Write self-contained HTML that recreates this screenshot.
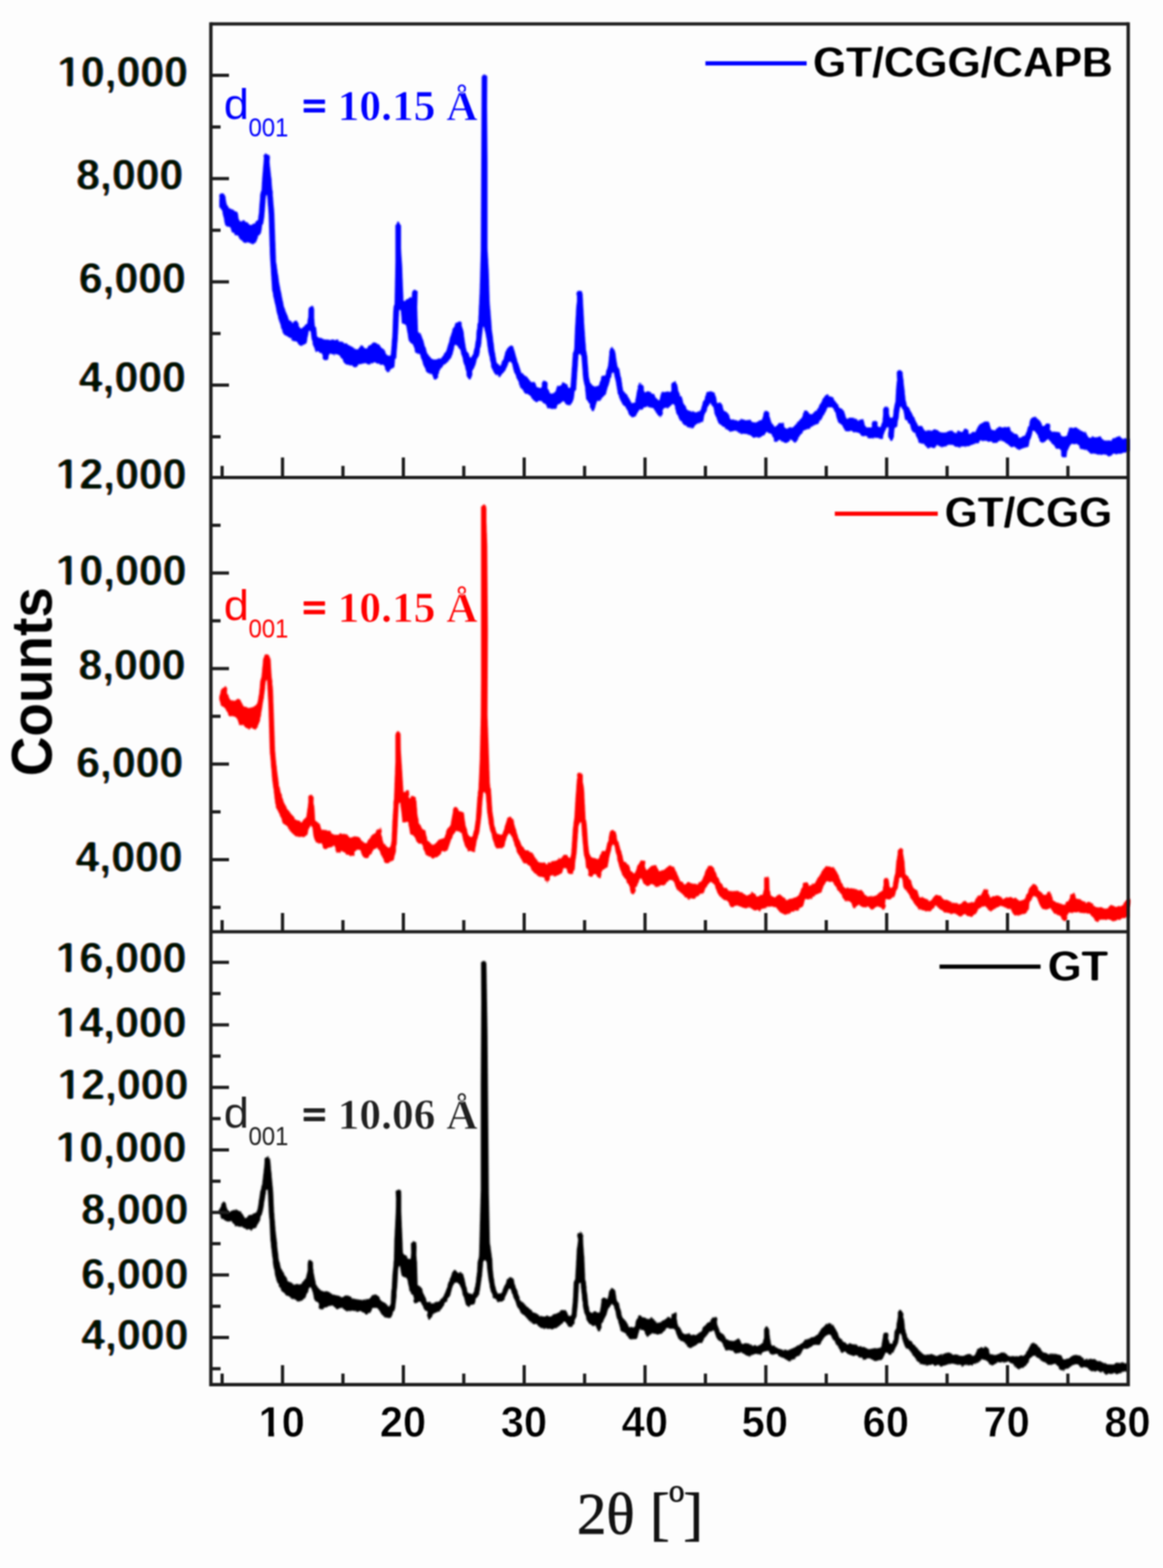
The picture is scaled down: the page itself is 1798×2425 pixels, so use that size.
<!DOCTYPE html>
<html lang="en"><head><meta charset="utf-8"><title>XRD patterns of GT, GT/CGG and GT/CGG/CAPB</title>
<style>
html,body{margin:0;padding:0;background:#fff;}
body{width:1798px;height:2425px;overflow:hidden;}
svg{display:block;}
text{white-space:pre;}
.ab{font-family:"Liberation Sans",Arial,Helvetica,sans-serif;font-weight:bold;}
.ar{font-family:"Liberation Sans",Arial,Helvetica,sans-serif;font-weight:normal;}
.tb{font-family:"Liberation Serif","Times New Roman",Times,serif;font-weight:bold;}
.tr{font-family:"Liberation Serif","Times New Roman",Times,serif;font-weight:normal;}
.fr{stroke:#1c1c1c;fill:none;stroke-linecap:butt;}
</style></head><body>
<svg width="1798" height="2425" viewBox="0 0 1798 2425" role="img" aria-label="XRD patterns">
<rect x="0" y="0" width="1798" height="2425" fill="#fdfdfd"/>
<defs>
<filter id="fc" x="0" y="0" width="1798" height="2425" filterUnits="userSpaceOnUse" color-interpolation-filters="sRGB"><feTurbulence type="fractalNoise" baseFrequency="0.16" numOctaves="2" seed="7" result="n0"/><feColorMatrix in="n0" type="matrix" values="0 0 0 0 0.5  0 1 0 0 0  0 0 1 0 0  0 0 0 0 1" result="n"/><feDisplacementMap in="SourceGraphic" in2="n" scale="6" xChannelSelector="R" yChannelSelector="G" result="d"/><feGaussianBlur in="d" stdDeviation="1.8"/></filter>
<filter id="fy" x="0" y="0" width="1798" height="2425" filterUnits="userSpaceOnUse" color-interpolation-filters="sRGB"><feGaussianBlur in="SourceAlpha" stdDeviation="1.5" result="b0"/><feComponentTransfer in="b0" result="er"><feFuncA type="linear" slope="3" intercept="-1.46"/></feComponentTransfer><feOffset in="er" dx="-1.2" dy="0" result="oa"/><feColorMatrix in="oa" type="matrix" values="0 0 0 0 0.62  0 0 0 0 0.25  0 0 0 0 0  0 0 0 1 0" result="ca"/><feOffset in="er" dx="1.2" dy="0" result="ob"/><feColorMatrix in="ob" type="matrix" values="0 0 0 0 0  0 0 0 0 0.28  0 0 0 0 0.62  0 0 0 1 0" result="cb"/><feBlend in="ca" in2="cb" mode="multiply" result="m"/><feGaussianBlur in="m" stdDeviation="0.8"/></filter>
<filter id="fl" x="0" y="0" width="1798" height="2425" filterUnits="userSpaceOnUse" color-interpolation-filters="sRGB"><feGaussianBlur in="SourceAlpha" stdDeviation="1.2" result="b0"/><feComponentTransfer in="b0" result="er"><feFuncA type="linear" slope="3" intercept="-1.81"/></feComponentTransfer><feOffset in="er" dx="-0.9" dy="0" result="oa"/><feOffset in="er" dx="0.9" dy="0" result="ob"/><feMerge result="m"><feMergeNode in="oa"/><feMergeNode in="ob"/></feMerge><feGaussianBlur in="m" stdDeviation="0.9"/></filter>
<filter id="fs" x="0" y="0" width="1798" height="2425" filterUnits="userSpaceOnUse" color-interpolation-filters="sRGB"><feGaussianBlur stdDeviation="1.15"/></filter>
<filter id="ft" x="0" y="0" width="1798" height="2425" filterUnits="userSpaceOnUse" color-interpolation-filters="sRGB"><feGaussianBlur stdDeviation="0.9"/></filter>
</defs>
<g id="curves" filter="url(#fc)">
<path d="M339.0,302.0 339.0,305.0 339.7,306.0 339.0,309.7 339.0,321.3 343.0,325.0 343.7,326.3 348.0,348.3 354.7,351.7 356.3,353.3 359.0,359.0 361.0,360.7 367.7,364.3 372.0,370.3 377.0,375.3 378.7,375.7 386.3,374.7 391.0,378.0 392.0,378.0 395.7,374.3 398.3,367.0 403.0,361.0 404.0,358.7 405.3,348.3 407.3,342.7 408.7,335.0 411.0,303.7 412.3,301.3 413.0,302.0 415.3,331.0 417.3,394.3 420.7,448.7 427.7,482.3 431.3,496.3 438.3,517.3 439.7,519.0 448.3,522.7 464.7,535.0 466.3,535.0 473.7,531.0 477.0,514.3 478.3,512.3 479.7,512.0 480.3,512.7 481.7,524.0 483.0,526.3 483.3,530.0 487.3,542.7 488.7,544.0 495.3,545.0 497.3,546.3 499.3,550.7 498.7,553.7 500.0,556.3 501.3,557.3 506.3,556.7 507.7,554.7 508.0,551.3 509.7,548.3 511.0,547.3 524.3,549.7 525.7,550.3 534.0,563.0 536.0,564.0 543.7,564.7 549.7,567.7 551.0,567.7 558.3,561.7 571.0,563.7 577.3,560.3 579.0,560.3 586.7,563.7 592.7,565.3 595.0,568.0 595.7,569.3 595.0,571.3 598.0,575.3 600.0,575.7 603.0,574.3 604.0,573.3 604.3,572.0 610.0,565.7 610.7,555.7 612.7,552.3 615.3,518.3 617.0,479.3 618.0,478.3 619.7,480.7 621.3,500.0 626.7,502.0 628.0,503.7 632.0,527.0 638.7,533.3 642.0,545.0 642.7,545.7 647.7,547.0 649.3,548.3 655.0,564.7 659.7,575.7 660.7,576.7 667.3,578.3 668.7,580.0 669.0,583.3 672.3,587.0 674.3,587.0 677.3,582.7 677.3,578.3 682.3,568.3 697.3,555.3 701.7,538.7 703.3,534.3 704.7,534.3 710.7,538.7 711.7,540.0 713.0,547.3 714.7,551.7 717.0,562.0 721.0,573.7 721.3,580.3 725.3,586.3 726.7,586.7 727.7,586.0 730.3,579.3 730.0,574.3 735.7,562.0 737.0,556.3 740.3,550.0 744.3,530.3 744.3,526.3 746.7,506.7 747.7,506.0 748.7,507.7 752.3,524.7 755.0,544.0 760.3,569.7 765.3,578.7 772.0,582.3 773.0,582.3 777.7,577.7 783.7,567.7 786.3,560.3 787.0,559.7 788.7,559.7 790.3,560.7 791.7,562.3 795.0,576.3 799.7,586.3 805.0,599.7 809.7,606.7 812.0,608.7 820.0,611.7 826.0,621.0 835.0,621.0 840.7,622.3 842.7,623.7 847.3,631.7 854.0,633.7 859.7,632.0 860.7,631.0 862.3,626.0 864.0,624.3 870.0,621.3 871.0,621.3 876.3,626.3 881.0,626.7 882.7,626.3 883.7,625.0 887.3,616.3 888.0,607.7 890.7,602.0 894.3,549.3 896.0,547.0 897.3,548.0 899.0,551.7 901.3,582.3 902.7,591.3 904.3,598.0 906.0,616.0 912.0,624.7 912.0,629.7 914.7,635.0 915.7,635.7 917.7,634.7 920.7,629.7 920.7,626.0 924.3,620.0 925.7,618.7 931.3,616.0 932.7,614.7 937.0,607.7 943.7,585.0 944.7,583.3 946.0,576.7 947.0,575.3 948.3,575.0 949.0,576.0 950.0,581.7 951.0,584.3 955.0,608.3 956.7,611.3 956.7,612.7 962.3,625.3 967.7,630.7 973.0,641.7 977.7,646.0 979.3,646.0 982.0,645.0 983.3,643.7 987.7,634.7 988.7,633.7 994.7,631.7 999.7,629.0 1009.3,631.3 1014.7,637.7 1016.3,641.7 1017.3,642.7 1022.0,643.7 1023.3,642.7 1025.0,639.3 1024.3,636.0 1027.0,631.3 1036.3,629.0 1040.0,626.3 1042.0,626.0 1043.3,629.0 1045.7,638.3 1051.3,649.3 1055.7,655.3 1057.7,657.3 1063.7,661.0 1070.7,661.7 1078.0,656.3 1086.0,653.3 1087.0,652.3 1089.3,641.3 1091.7,637.3 1094.3,627.7 1098.0,624.0 1099.0,624.7 1102.7,630.3 1106.0,642.7 1111.0,654.7 1120.3,662.0 1128.3,667.0 1140.3,667.3 1148.7,671.7 1159.3,672.7 1165.7,677.3 1174.3,677.3 1186.3,669.3 1187.7,669.3 1192.3,672.3 1194.0,674.0 1196.3,677.3 1196.7,681.0 1199.3,683.3 1202.0,683.3 1205.7,680.3 1211.3,684.0 1214.7,685.0 1216.7,685.0 1223.7,680.0 1226.7,683.0 1229.3,683.7 1231.7,683.3 1234.3,679.7 1234.0,677.0 1241.7,667.3 1250.7,663.7 1257.0,658.7 1264.3,655.0 1270.3,647.7 1280.3,630.0 1281.7,629.0 1285.3,629.0 1287.0,630.3 1291.7,639.7 1295.7,651.7 1301.0,657.3 1307.3,667.0 1317.0,667.3 1324.3,668.7 1331.7,673.0 1337.3,674.3 1343.7,678.0 1352.0,677.3 1364.3,678.0 1365.0,677.7 1368.0,666.7 1369.3,665.0 1370.3,662.0 1371.7,660.7 1372.7,660.7 1373.7,662.3 1373.7,667.0 1373.0,670.3 1373.3,676.0 1377.0,680.7 1378.3,681.0 1379.7,680.0 1382.0,675.7 1382.7,663.3 1383.3,662.0 1387.3,658.3 1388.0,651.0 1389.3,647.7 1390.0,638.0 1391.7,629.3 1393.0,628.7 1397.0,636.7 1399.3,648.7 1400.0,650.0 1406.0,655.3 1409.7,666.0 1415.0,671.7 1420.0,683.0 1421.0,684.0 1427.3,685.7 1434.7,692.7 1444.7,692.7 1449.0,687.7 1454.7,692.7 1462.3,691.3 1467.7,687.7 1469.3,687.7 1477.7,691.0 1490.7,691.7 1496.3,691.0 1503.3,687.3 1510.3,686.3 1516.3,681.7 1525.3,681.7 1528.7,683.7 1540.0,684.3 1545.0,681.7 1552.0,681.7 1562.3,691.0 1563.7,691.7 1570.3,691.0 1575.0,694.7 1577.3,695.0 1583.0,692.7 1590.0,691.0 1592.3,679.3 1595.0,674.0 1596.3,668.0 1597.7,666.3 1600.0,666.0 1604.7,675.0 1607.0,678.0 1607.0,681.7 1609.7,685.3 1611.7,685.7 1615.0,684.0 1615.7,682.0 1617.3,680.3 1618.7,680.3 1624.7,683.3 1633.0,693.0 1639.3,696.0 1640.3,697.0 1640.7,703.7 1642.0,706.7 1643.0,707.3 1647.3,707.3 1648.3,706.7 1649.3,704.7 1649.7,698.0 1652.0,692.7 1657.3,685.7 1659.3,685.7 1665.0,687.3 1671.0,694.3 1680.0,696.7 1684.7,701.3 1691.0,700.3 1695.7,705.0 1698.0,704.7 1705.0,701.7 1711.7,705.0 1714.0,705.0 1724.7,701.7 1734.3,701.7 1745.7,698.3 1746.0,697.7 1746.0,678.3 1745.3,677.7 1736.0,677.7 1731.0,674.3 1730.0,674.3 1726.3,677.0 1717.7,681.3 1707.3,681.3 1699.3,675.0 1683.7,676.0 1682.3,675.0 1679.0,668.7 1670.7,667.0 1669.3,666.3 1664.7,661.3 1657.7,660.3 1652.7,663.3 1650.0,671.7 1648.0,674.3 1644.7,675.7 1643.0,675.7 1638.0,669.0 1636.7,668.3 1626.3,667.0 1625.0,666.3 1623.0,662.7 1624.0,658.7 1622.3,655.0 1616.7,655.0 1614.7,657.0 1612.0,657.7 1610.7,656.7 1606.7,650.0 1601.3,645.0 1597.3,645.0 1593.0,648.3 1591.0,658.7 1588.0,664.0 1586.0,671.3 1583.3,674.0 1577.7,675.7 1575.7,675.7 1571.7,672.0 1565.3,670.3 1563.3,667.3 1561.3,661.7 1559.7,661.0 1552.3,660.3 1543.3,661.0 1541.3,661.7 1537.7,665.0 1534.0,665.0 1532.7,664.0 1529.3,654.3 1528.3,653.3 1524.3,651.7 1522.7,651.7 1513.7,656.7 1512.3,658.0 1508.0,666.7 1507.0,667.7 1499.7,670.0 1498.0,670.0 1497.3,669.3 1497.3,666.7 1493.7,663.0 1492.3,663.3 1489.3,665.7 1487.7,668.3 1482.0,666.7 1476.0,668.3 1473.7,668.3 1468.7,665.3 1467.0,665.7 1463.0,668.7 1454.7,668.7 1450.3,665.0 1440.7,665.0 1431.0,666.7 1429.7,665.7 1424.7,659.0 1418.7,656.3 1417.0,654.7 1406.3,631.7 1402.0,626.7 1401.7,624.3 1400.3,621.3 1397.0,590.3 1395.3,578.7 1396.0,577.3 1394.3,574.0 1393.0,573.0 1388.7,573.7 1387.0,575.0 1386.3,576.3 1387.0,587.7 1385.7,596.3 1384.3,621.7 1381.7,633.0 1380.7,644.0 1379.7,645.0 1377.0,645.0 1375.7,644.0 1374.3,640.0 1374.3,632.0 1373.0,630.0 1369.7,628.3 1368.0,628.7 1365.3,632.7 1365.3,642.3 1364.0,654.0 1362.0,657.3 1361.7,659.3 1359.0,661.0 1358.0,661.0 1356.7,659.3 1356.7,653.3 1355.7,651.0 1354.7,650.3 1349.7,650.3 1348.7,651.0 1347.7,654.0 1348.0,660.0 1347.3,661.0 1345.3,661.0 1339.0,659.7 1337.3,658.3 1334.7,649.7 1333.7,648.7 1325.3,648.7 1318.0,645.0 1311.7,646.3 1309.0,646.3 1307.7,644.3 1304.7,635.7 1299.0,631.3 1295.0,625.7 1290.7,618.0 1284.0,612.7 1279.3,610.7 1277.3,610.7 1272.7,614.0 1266.7,628.0 1262.7,635.0 1261.3,636.3 1254.7,639.7 1251.0,639.0 1248.7,636.3 1245.7,635.7 1243.3,636.0 1241.0,639.7 1241.7,642.3 1233.7,652.7 1225.7,661.0 1215.3,663.0 1214.0,662.7 1212.3,660.0 1212.3,656.7 1211.7,655.0 1210.3,653.7 1205.7,653.0 1203.3,655.3 1202.3,658.7 1199.3,659.3 1197.7,659.0 1192.3,653.7 1189.3,642.7 1189.3,639.3 1188.3,637.3 1185.7,635.3 1183.3,635.7 1181.0,637.3 1180.3,638.7 1180.0,643.3 1178.0,648.3 1176.3,650.0 1171.0,652.3 1163.7,654.0 1159.0,650.3 1154.3,649.0 1150.0,648.7 1140.7,650.3 1131.0,648.7 1129.7,647.7 1125.3,640.0 1119.3,635.3 1115.7,624.7 1109.7,621.7 1108.3,620.3 1105.0,608.0 1104.0,607.0 1099.0,605.0 1093.7,606.3 1092.7,607.3 1089.7,615.0 1088.7,619.0 1086.3,623.0 1083.3,633.3 1082.0,635.0 1076.7,637.7 1065.7,636.0 1064.0,634.7 1057.0,625.3 1054.0,612.7 1053.3,611.7 1051.3,610.7 1050.0,608.7 1047.0,596.7 1047.3,594.0 1044.0,590.3 1040.0,591.3 1038.3,593.3 1037.7,595.3 1038.0,602.0 1037.0,605.7 1036.3,606.3 1034.3,606.3 1028.7,605.0 1023.7,606.3 1022.7,607.7 1019.7,617.3 1018.7,619.0 1017.7,619.0 1011.0,610.3 1006.3,606.7 1004.3,605.7 1000.7,605.0 997.3,607.0 996.7,606.7 995.3,603.3 995.3,597.7 994.3,595.3 993.0,594.0 988.3,593.0 987.3,593.7 985.7,597.0 986.3,600.7 985.0,603.0 982.3,620.3 980.7,622.7 976.7,623.7 972.0,614.7 963.3,603.7 960.7,586.7 957.3,571.3 956.3,569.0 954.7,567.0 950.3,540.7 949.0,539.0 946.3,537.3 945.7,537.3 943.3,539.3 942.0,542.7 942.0,549.0 940.3,562.3 938.7,570.0 937.3,573.3 936.7,578.0 935.3,580.0 931.7,581.3 930.0,582.7 926.0,595.7 924.0,597.0 918.3,597.7 912.3,591.7 910.3,582.7 907.7,549.0 906.0,541.0 903.3,503.7 900.7,454.3 899.3,451.3 897.0,449.7 894.3,449.7 893.0,450.3 891.3,452.7 891.3,456.0 892.0,457.0 892.0,465.7 891.0,473.7 888.7,513.7 887.7,540.7 885.7,546.7 882.0,598.7 880.7,600.0 879.3,600.0 878.7,599.3 876.7,595.0 872.3,591.7 871.3,591.7 867.0,595.0 861.3,596.7 859.0,606.0 858.0,607.3 851.0,607.7 849.7,606.7 846.3,600.0 846.7,593.0 845.7,590.0 844.7,589.3 839.7,589.3 838.7,590.0 837.7,592.3 837.7,597.7 836.3,600.0 834.7,600.0 831.0,598.7 829.7,597.3 826.3,589.7 819.7,589.3 814.3,582.3 807.7,579.0 806.3,577.7 798.0,552.0 794.0,537.3 793.0,536.3 790.3,535.3 788.3,535.3 783.3,538.3 778.3,555.3 773.7,564.7 773.0,565.3 772.0,565.3 768.7,562.0 768.0,560.7 764.7,544.0 760.3,508.3 757.0,466.0 755.7,421.7 753.7,383.7 753.7,250.3 753.0,164.0 753.3,118.7 752.7,117.3 750.3,115.7 747.7,115.7 746.3,116.3 744.7,118.7 743.3,386.3 741.7,447.3 739.3,499.3 738.3,501.0 737.7,507.7 737.0,509.7 736.0,525.3 734.7,531.0 734.0,537.3 731.7,547.3 731.0,548.7 728.0,551.0 727.0,551.0 721.7,544.0 719.3,533.0 716.7,514.0 713.7,504.3 713.7,500.0 713.0,498.7 710.7,497.0 708.0,497.0 705.3,499.0 700.0,508.7 689.7,543.7 683.0,552.7 681.0,554.3 674.0,556.0 667.0,554.0 661.0,548.0 652.0,519.7 646.3,511.7 645.0,476.3 645.7,451.3 642.7,448.0 640.3,448.0 637.0,451.0 636.7,460.0 635.7,461.3 630.3,462.3 625.3,464.7 623.7,463.7 621.7,412.3 620.0,384.0 620.0,347.7 616.3,343.7 614.3,343.7 611.3,347.7 611.3,404.0 610.0,470.7 608.7,473.0 608.0,480.3 606.7,515.7 604.3,547.7 602.3,549.7 599.3,550.0 592.3,539.3 585.3,532.3 580.7,530.0 579.0,530.0 574.3,532.3 565.7,539.3 563.7,538.3 560.3,535.3 559.3,535.3 551.7,539.3 550.0,539.3 534.3,531.3 522.0,526.0 501.3,525.0 491.3,520.3 490.0,518.7 488.7,507.3 486.7,503.7 485.7,491.0 485.7,478.0 484.7,475.7 481.0,472.7 478.3,475.0 477.0,478.0 476.7,487.7 475.0,500.3 473.7,502.0 466.3,508.0 464.7,508.0 461.7,504.0 461.7,500.3 459.0,497.0 457.3,496.7 454.0,498.3 452.0,500.3 447.0,494.0 439.0,474.3 432.0,439.7 426.7,403.7 424.0,328.0 421.7,302.0 421.7,297.0 421.0,294.7 419.7,277.3 416.7,251.0 417.3,241.7 415.7,238.7 410.3,237.7 409.0,238.7 407.3,241.3 408.0,243.3 405.3,277.0 404.3,294.7 403.3,296.3 403.0,299.7 402.3,301.0 400.0,332.3 399.0,338.7 393.7,346.0 389.7,347.3 387.3,347.3 382.0,343.7 370.3,340.7 369.0,338.7 367.3,327.7 357.3,324.3 350.7,316.7 350.0,315.0 348.3,302.0 345.0,299.0 342.0,299.0 340.7,299.7Z" fill="#0000ff" fill-rule="evenodd"/>
<path d="M339.0,1077.7 339.0,1081.7 341.7,1090.3 349.3,1098.0 353.0,1104.7 354.7,1106.7 360.7,1108.0 366.3,1111.7 367.3,1113.0 369.7,1119.3 377.7,1122.7 382.3,1127.7 384.0,1127.7 389.7,1125.0 391.0,1127.0 394.3,1128.3 395.7,1128.3 398.7,1125.3 398.3,1122.3 399.7,1120.7 401.0,1117.3 403.7,1105.7 406.7,1084.7 408.3,1076.7 410.7,1054.7 412.0,1053.0 413.0,1054.0 415.0,1090.0 417.0,1160.0 421.0,1206.7 426.0,1245.3 437.0,1272.3 445.0,1280.0 451.0,1288.0 458.7,1294.7 468.3,1294.0 471.0,1293.3 475.7,1288.7 479.0,1278.3 480.7,1276.0 481.7,1276.0 482.7,1277.3 484.7,1292.0 487.7,1302.0 488.7,1303.0 494.3,1304.0 497.0,1305.0 499.0,1307.7 499.0,1310.3 499.7,1311.7 502.0,1313.3 504.0,1313.3 505.3,1312.7 508.3,1310.0 516.3,1308.3 519.0,1312.0 518.3,1315.0 520.7,1319.0 522.7,1319.3 525.0,1318.7 527.7,1315.7 529.0,1315.3 535.3,1320.7 537.0,1321.7 539.0,1322.0 541.7,1324.3 546.3,1324.3 548.3,1321.7 548.0,1318.3 550.7,1315.3 556.0,1315.3 557.3,1316.3 561.7,1325.3 562.7,1326.3 565.3,1327.3 569.0,1327.0 578.7,1314.3 582.3,1311.3 583.7,1311.3 586.7,1315.7 593.7,1331.3 595.3,1333.7 602.0,1334.3 608.7,1329.7 612.0,1318.0 612.3,1309.3 613.3,1305.3 616.3,1244.7 616.7,1243.3 617.7,1242.3 619.0,1243.0 622.3,1271.7 630.3,1272.0 631.3,1273.0 634.0,1289.7 635.3,1290.7 639.7,1292.0 641.0,1293.7 643.7,1300.7 650.0,1304.0 651.7,1305.7 656.7,1317.7 664.0,1326.3 669.0,1327.7 671.3,1327.7 677.0,1325.0 683.3,1317.3 691.0,1315.7 692.0,1314.7 697.3,1299.0 702.3,1288.0 705.3,1284.7 712.0,1287.7 713.7,1289.3 718.7,1308.0 723.3,1315.3 724.3,1316.3 733.7,1316.3 734.7,1314.0 737.3,1298.7 741.3,1286.0 744.7,1258.3 745.0,1248.3 747.0,1226.3 748.3,1225.0 749.0,1225.0 751.0,1226.7 753.3,1257.7 755.3,1269.7 755.7,1275.0 764.7,1309.0 769.3,1313.3 778.7,1310.3 779.7,1309.3 782.7,1296.3 786.0,1289.7 787.7,1288.7 791.7,1294.7 800.3,1320.7 809.3,1333.7 818.0,1338.7 825.7,1350.0 835.3,1355.7 841.0,1357.0 841.7,1357.7 842.3,1361.0 846.0,1364.7 847.3,1364.3 850.0,1360.0 850.0,1356.0 850.7,1355.3 863.3,1353.7 868.3,1351.7 870.7,1344.0 872.0,1342.7 875.0,1342.7 876.0,1343.3 877.3,1347.0 877.3,1349.7 879.0,1352.0 880.3,1352.7 882.3,1352.7 885.3,1351.0 888.3,1345.0 889.7,1330.0 891.3,1320.7 894.3,1278.0 896.0,1271.7 897.3,1271.0 898.7,1272.7 900.0,1293.0 902.7,1320.7 904.7,1328.0 906.0,1341.3 910.0,1348.7 909.0,1351.3 910.7,1354.7 912.0,1355.7 913.3,1355.7 916.0,1354.7 918.0,1352.0 919.3,1352.0 921.7,1353.7 922.0,1355.0 923.0,1356.0 926.0,1357.3 927.3,1357.3 928.3,1356.7 930.0,1353.3 929.3,1349.3 931.0,1346.0 932.7,1344.3 938.3,1341.7 939.3,1340.3 942.7,1322.3 946.3,1308.0 947.7,1306.7 949.7,1308.3 953.3,1322.0 955.0,1332.3 962.0,1353.3 970.0,1364.3 973.7,1374.0 975.0,1380.0 979.0,1382.7 981.0,1382.0 983.0,1377.3 982.3,1376.0 982.3,1374.0 989.3,1360.3 990.3,1359.3 992.0,1360.3 996.7,1368.3 999.3,1370.3 1001.3,1370.3 1007.0,1367.3 1008.0,1367.3 1015.0,1371.0 1023.0,1370.3 1025.3,1369.7 1031.0,1363.3 1036.3,1360.0 1042.0,1363.7 1045.7,1374.3 1052.7,1379.7 1059.0,1387.7 1065.0,1390.7 1071.0,1390.3 1073.0,1389.7 1079.0,1385.7 1086.0,1382.3 1087.3,1381.0 1091.3,1374.3 1095.3,1366.0 1099.0,1363.7 1104.3,1367.7 1109.3,1381.3 1113.7,1387.7 1115.3,1389.3 1124.0,1393.0 1127.3,1398.3 1127.3,1400.0 1128.0,1401.3 1130.3,1403.0 1132.3,1403.0 1135.3,1401.0 1140.7,1400.7 1149.0,1403.7 1159.7,1403.7 1166.0,1408.0 1174.3,1408.0 1182.7,1403.7 1193.3,1401.7 1200.0,1403.7 1206.0,1411.0 1212.0,1414.0 1213.7,1414.0 1226.3,1410.3 1235.0,1406.7 1241.3,1401.3 1244.0,1393.0 1245.3,1391.0 1254.0,1389.0 1260.7,1384.0 1269.7,1380.3 1271.0,1378.0 1275.3,1366.0 1276.3,1365.0 1281.0,1362.7 1286.3,1363.3 1288.3,1365.0 1292.7,1372.7 1299.7,1382.3 1306.0,1392.7 1314.0,1394.0 1316.7,1396.3 1317.3,1397.7 1316.7,1400.0 1319.0,1403.3 1321.3,1403.7 1324.0,1403.0 1326.0,1400.3 1328.0,1400.0 1334.3,1403.3 1336.0,1403.3 1341.7,1401.7 1348.7,1406.7 1350.0,1406.3 1356.3,1401.7 1360.7,1401.7 1363.0,1404.3 1366.3,1405.7 1367.7,1405.7 1369.0,1404.0 1369.7,1399.7 1368.3,1397.3 1369.0,1392.3 1370.3,1391.0 1375.7,1391.0 1382.7,1386.0 1386.0,1376.7 1387.3,1375.0 1388.3,1372.3 1390.3,1359.0 1392.0,1357.0 1392.7,1357.0 1393.7,1358.0 1395.3,1362.0 1396.7,1371.7 1397.7,1374.0 1404.7,1382.3 1409.3,1391.0 1415.3,1398.7 1420.7,1407.3 1427.3,1407.3 1432.3,1410.3 1434.3,1410.3 1439.3,1409.0 1443.3,1403.7 1445.3,1401.7 1446.0,1401.7 1452.7,1405.0 1459.0,1410.0 1461.0,1411.0 1470.3,1412.7 1478.3,1412.7 1485.3,1417.7 1492.3,1414.3 1501.7,1417.7 1508.3,1413.0 1513.0,1405.0 1515.0,1403.3 1523.3,1401.7 1530.7,1409.0 1532.3,1410.0 1537.7,1405.3 1545.0,1401.7 1546.3,1401.7 1561.7,1405.3 1562.7,1406.3 1567.0,1415.3 1568.0,1416.3 1576.3,1416.3 1584.3,1414.3 1588.0,1410.3 1590.3,1406.3 1591.7,1396.7 1595.7,1388.7 1597.3,1387.0 1600.7,1386.3 1602.0,1387.7 1610.7,1404.7 1611.7,1405.7 1618.0,1407.0 1622.3,1404.0 1623.7,1404.0 1629.3,1412.7 1636.7,1414.7 1641.3,1419.7 1643.0,1422.7 1646.0,1423.7 1648.0,1423.3 1649.7,1421.0 1650.0,1418.3 1649.3,1417.0 1652.3,1412.7 1660.3,1410.7 1680.3,1412.7 1689.3,1416.7 1691.7,1419.7 1692.7,1423.7 1695.0,1425.3 1697.0,1425.3 1699.7,1423.3 1701.7,1422.7 1713.3,1421.7 1721.0,1423.7 1728.3,1424.3 1735.7,1420.0 1743.0,1418.7 1745.3,1417.7 1745.3,1402.7 1747.3,1397.0 1747.3,1391.3 1746.3,1390.3 1741.3,1391.3 1739.7,1393.3 1738.3,1396.7 1734.0,1402.0 1722.7,1401.3 1718.0,1399.7 1713.0,1404.7 1711.3,1405.0 1703.7,1403.0 1694.0,1403.0 1688.0,1395.7 1679.0,1395.7 1664.0,1388.7 1662.7,1386.7 1662.7,1383.7 1660.7,1381.3 1658.7,1381.0 1655.3,1383.0 1653.7,1388.3 1650.7,1394.3 1643.7,1398.7 1635.7,1398.0 1633.7,1397.3 1628.0,1392.0 1625.7,1385.3 1625.7,1383.0 1624.0,1380.7 1622.7,1380.0 1620.7,1380.0 1615.0,1383.0 1613.3,1382.7 1606.0,1377.0 1602.3,1369.3 1601.3,1368.3 1598.0,1367.0 1596.3,1367.3 1592.7,1370.7 1588.7,1380.7 1584.3,1389.3 1582.7,1390.7 1575.7,1392.3 1568.7,1388.7 1560.0,1386.7 1550.3,1388.7 1543.3,1385.0 1538.3,1385.0 1532.7,1388.3 1531.3,1388.3 1527.3,1381.7 1528.0,1377.7 1527.0,1375.7 1525.7,1374.7 1522.0,1375.0 1520.3,1376.0 1517.0,1384.0 1514.7,1385.7 1511.7,1386.3 1510.0,1388.3 1506.7,1394.3 1505.3,1395.7 1492.7,1394.0 1482.3,1397.7 1481.0,1397.7 1474.3,1395.0 1466.7,1394.0 1459.3,1390.3 1453.7,1385.0 1445.0,1385.0 1441.7,1390.7 1437.3,1393.7 1435.7,1393.7 1430.7,1389.0 1428.0,1388.0 1422.3,1387.0 1421.0,1386.0 1417.3,1376.0 1412.0,1373.3 1407.7,1359.7 1401.3,1354.3 1399.7,1350.7 1398.3,1332.7 1396.0,1320.3 1396.3,1315.0 1395.0,1313.0 1393.0,1311.3 1390.0,1312.3 1388.0,1314.3 1387.7,1321.7 1385.7,1332.0 1384.3,1349.3 1382.7,1354.7 1380.3,1370.0 1377.7,1372.0 1376.3,1372.0 1375.3,1371.0 1373.7,1360.3 1371.7,1357.7 1370.0,1356.7 1367.3,1358.7 1366.0,1361.3 1366.0,1368.7 1364.7,1376.0 1361.0,1378.7 1355.0,1384.7 1348.3,1386.7 1338.0,1385.0 1336.0,1383.0 1333.3,1379.0 1331.3,1377.3 1323.0,1376.0 1314.7,1373.0 1307.7,1372.7 1305.0,1372.0 1299.3,1361.3 1293.7,1348.3 1288.3,1342.3 1282.3,1340.0 1279.7,1340.0 1275.7,1341.0 1274.0,1342.3 1264.3,1358.7 1258.7,1366.3 1257.7,1367.0 1250.3,1368.7 1248.0,1365.7 1245.3,1364.7 1243.3,1365.0 1241.0,1368.0 1241.3,1370.7 1239.3,1374.0 1235.3,1384.0 1232.7,1386.3 1225.7,1390.3 1217.0,1392.3 1215.3,1392.0 1210.0,1386.3 1206.0,1384.3 1204.7,1384.3 1200.3,1386.7 1198.7,1386.7 1193.3,1385.3 1191.7,1383.7 1189.7,1375.3 1189.3,1361.0 1188.7,1357.3 1187.3,1355.7 1183.0,1355.7 1182.0,1356.7 1181.3,1361.0 1181.3,1376.0 1179.0,1383.7 1177.7,1385.0 1169.0,1385.0 1163.7,1380.0 1162.3,1380.0 1154.3,1385.0 1140.0,1376.3 1134.7,1379.3 1133.7,1379.3 1120.0,1372.7 1113.7,1364.7 1109.3,1356.0 1104.7,1344.7 1100.0,1339.7 1095.0,1340.3 1090.3,1347.0 1086.0,1361.0 1080.0,1366.7 1071.7,1366.7 1065.7,1365.0 1058.0,1366.7 1056.3,1365.7 1051.0,1361.0 1047.3,1351.3 1042.0,1341.0 1037.3,1338.0 1032.0,1339.7 1025.7,1345.0 1020.3,1347.3 1018.3,1347.0 1015.7,1339.7 1011.0,1338.0 1006.0,1341.0 1001.0,1346.0 1000.0,1346.3 999.0,1345.3 997.0,1338.7 997.7,1333.7 997.0,1332.3 995.3,1331.0 991.3,1331.3 990.0,1332.7 989.0,1335.0 985.7,1338.3 982.0,1349.3 980.3,1351.0 975.3,1347.3 972.0,1337.0 971.0,1336.0 965.3,1333.3 964.0,1331.7 962.0,1322.0 959.7,1315.0 957.3,1305.0 954.7,1300.7 952.0,1286.7 951.0,1285.3 947.0,1283.0 945.7,1283.0 942.7,1286.7 940.7,1299.0 939.0,1303.0 936.7,1313.7 935.3,1315.3 932.0,1316.0 930.0,1317.0 926.3,1326.7 925.0,1327.7 916.0,1327.7 911.7,1321.3 910.7,1318.7 909.0,1302.0 907.0,1273.3 905.3,1266.0 903.0,1221.7 901.0,1207.0 901.0,1199.0 900.0,1196.3 896.3,1194.0 894.3,1194.3 892.0,1198.0 892.7,1201.7 892.0,1204.3 889.7,1234.7 888.0,1264.3 886.0,1279.0 883.3,1318.7 881.7,1326.3 880.3,1327.3 876.3,1323.0 871.3,1323.0 865.7,1327.7 856.3,1331.3 846.0,1336.7 837.7,1335.0 830.0,1330.3 828.0,1328.3 822.7,1317.7 812.0,1314.7 806.3,1307.3 801.0,1295.0 796.0,1277.7 793.3,1266.3 792.3,1265.3 789.0,1263.7 784.3,1266.0 777.3,1288.3 776.0,1289.7 769.3,1289.7 768.3,1289.0 766.3,1283.7 763.7,1273.0 763.3,1267.7 761.3,1255.7 759.0,1222.3 758.0,1219.3 757.3,1211.3 753.7,1105.3 754.3,975.7 753.3,844.3 752.0,806.3 752.0,785.3 751.0,782.0 747.7,779.3 745.7,780.7 743.7,783.3 743.7,1050.0 743.3,1107.3 741.7,1176.7 739.7,1220.0 738.7,1226.3 738.7,1231.3 738.0,1234.3 735.7,1266.3 733.3,1284.0 731.0,1290.7 731.0,1292.0 729.0,1294.7 728.0,1294.3 723.3,1289.7 722.7,1288.3 719.3,1273.7 716.7,1255.3 710.3,1254.7 708.7,1253.0 708.3,1251.0 706.7,1248.7 705.3,1248.0 703.3,1248.0 702.0,1248.7 700.3,1251.0 700.3,1255.3 696.7,1274.7 691.0,1282.7 687.7,1294.3 686.3,1295.3 680.3,1296.7 675.3,1303.3 674.0,1304.3 667.7,1306.0 666.3,1305.7 661.0,1300.0 657.7,1286.3 650.7,1278.3 647.7,1273.3 645.3,1259.3 643.7,1238.3 642.7,1237.0 643.0,1233.7 640.7,1230.7 638.7,1230.3 636.3,1231.3 635.0,1232.7 634.7,1234.0 634.0,1234.7 633.0,1234.7 631.7,1231.3 631.7,1230.3 633.0,1228.0 632.0,1223.7 631.0,1223.0 629.0,1223.0 626.3,1223.7 624.7,1225.3 623.7,1224.7 619.7,1160.7 619.3,1135.3 618.0,1132.7 615.3,1130.3 612.7,1132.7 611.3,1135.3 611.3,1177.3 609.0,1237.0 608.3,1240.7 608.3,1247.7 606.7,1270.3 605.3,1302.3 603.0,1309.3 601.7,1311.0 600.3,1310.7 597.0,1308.3 593.3,1305.0 589.3,1291.0 589.3,1288.0 590.3,1286.3 589.7,1282.7 588.3,1281.3 584.0,1281.7 583.0,1282.3 581.0,1287.3 578.0,1290.7 574.0,1292.7 572.7,1294.0 569.0,1300.7 567.0,1303.0 560.0,1302.3 558.7,1301.0 556.0,1295.3 552.0,1293.7 549.7,1293.7 541.7,1296.7 535.7,1290.3 525.3,1289.7 519.7,1291.3 512.3,1287.7 506.7,1283.3 500.7,1284.0 497.7,1283.7 496.7,1282.0 494.0,1273.7 487.3,1269.0 486.0,1248.3 484.7,1241.0 485.0,1232.3 484.3,1231.0 482.0,1229.3 480.0,1229.3 478.7,1230.0 476.7,1232.7 476.7,1241.7 473.7,1262.3 473.0,1264.0 466.0,1271.0 464.3,1271.0 457.7,1267.7 450.0,1259.7 443.3,1250.0 437.7,1237.0 431.7,1217.0 428.0,1189.3 425.3,1162.3 422.0,1066.0 421.0,1057.3 421.0,1051.7 420.0,1047.3 418.3,1018.7 416.7,1016.0 416.0,1013.7 413.7,1012.0 411.7,1012.0 409.3,1013.7 408.7,1016.0 407.0,1018.7 404.3,1046.7 402.7,1052.3 400.3,1074.7 398.3,1086.0 397.7,1088.0 392.3,1093.0 388.3,1094.3 384.0,1095.0 377.3,1091.7 373.0,1086.7 371.7,1082.3 369.3,1080.7 367.3,1080.7 363.3,1083.7 358.7,1084.3 357.0,1084.0 355.7,1082.0 351.0,1071.0 350.7,1069.3 351.3,1067.7 351.3,1065.7 349.7,1062.0 348.7,1061.3 347.0,1061.7 343.7,1064.0 342.7,1067.0 341.3,1068.3Z" fill="#ff0000" fill-rule="evenodd"/>
<path d="M338.0,1871.7 338.0,1875.3 342.3,1884.0 348.3,1889.0 357.3,1889.3 365.3,1896.3 374.0,1896.3 383.0,1902.0 389.3,1902.7 396.7,1896.7 402.0,1886.0 403.3,1880.0 405.0,1877.0 406.3,1873.0 411.3,1840.7 413.0,1839.7 413.7,1840.3 414.3,1845.7 415.7,1878.3 416.7,1888.0 418.0,1916.7 422.3,1954.7 427.0,1980.3 434.0,1992.7 440.7,2001.3 459.3,2012.7 465.7,2012.7 472.7,2005.7 478.3,1992.3 480.0,1991.3 481.0,1992.3 483.7,1997.7 485.7,2010.3 486.7,2011.7 491.0,2014.0 492.7,2015.7 493.3,2017.3 492.7,2022.0 494.0,2025.0 495.0,2025.7 499.7,2024.7 502.0,2022.0 514.0,2020.0 521.0,2023.7 530.0,2023.7 536.7,2028.7 549.3,2027.3 559.3,2029.0 568.0,2032.3 573.0,2028.7 575.7,2023.0 577.0,2021.7 582.3,2021.7 584.3,2024.0 588.3,2031.0 593.7,2036.3 599.7,2039.3 601.3,2039.3 606.7,2034.7 607.7,2027.7 610.3,2024.0 611.0,2022.0 613.0,2004.7 613.0,1998.3 614.0,1990.3 615.3,1966.7 616.3,1958.3 617.7,1957.7 618.7,1959.7 620.3,1970.3 621.0,1971.7 624.3,1975.0 628.0,1977.3 630.0,1979.7 633.3,1996.7 638.3,2003.3 640.3,2009.0 639.0,2011.3 639.0,2012.3 640.3,2016.0 641.3,2016.7 644.7,2016.3 648.7,2013.0 650.7,2013.0 651.3,2013.7 652.3,2017.7 654.0,2020.3 655.0,2024.0 660.7,2029.3 661.0,2030.7 660.3,2032.7 660.3,2035.0 662.3,2039.7 664.0,2040.3 668.0,2036.7 668.7,2033.3 670.7,2031.0 677.7,2029.0 684.7,2022.3 688.0,2015.3 690.7,2012.3 696.3,2001.7 700.3,1988.0 703.7,1983.7 708.7,1985.3 710.3,1987.0 713.0,1992.3 715.7,2003.3 717.3,2006.3 720.3,2018.0 724.0,2021.0 726.0,2021.3 733.3,2015.3 740.3,2001.0 741.7,1996.3 745.0,1974.3 747.0,1951.7 748.0,1948.7 749.3,1948.0 752.3,1953.0 755.3,1979.7 759.0,1997.0 761.3,2003.3 762.0,2007.0 770.0,2013.0 773.7,2014.3 775.7,2013.7 779.3,2010.7 780.7,2006.0 783.0,2003.0 786.3,1993.7 787.3,1993.0 788.7,1993.3 790.3,1995.0 793.7,2006.0 800.0,2021.7 805.7,2031.0 812.0,2035.7 820.3,2045.3 828.0,2047.0 830.0,2048.0 838.7,2054.7 846.7,2055.3 859.0,2054.7 866.0,2049.7 871.7,2044.0 873.0,2044.0 877.3,2048.0 877.7,2050.3 879.3,2052.7 880.7,2053.3 882.7,2053.3 885.0,2051.7 885.7,2049.7 888.0,2047.3 888.7,2041.3 891.3,2036.7 893.7,2011.0 895.0,1985.7 896.3,1984.3 897.0,1984.3 897.7,1985.0 900.3,2011.0 902.0,2023.0 904.0,2033.0 906.0,2036.3 906.7,2041.3 907.3,2042.7 914.0,2049.0 921.0,2051.0 922.3,2055.0 925.3,2058.0 927.3,2058.0 930.0,2053.3 929.7,2048.7 937.7,2033.0 941.0,2024.3 944.7,2018.0 946.0,2016.7 947.0,2016.7 948.3,2018.0 949.3,2020.3 954.3,2040.0 956.3,2044.3 959.3,2057.7 960.7,2059.0 967.0,2062.0 972.7,2069.3 978.7,2072.3 983.0,2071.7 985.0,2070.3 988.3,2057.0 989.3,2056.3 995.7,2058.3 997.3,2060.3 997.0,2063.3 999.7,2067.0 1001.7,2067.3 1004.3,2066.0 1005.3,2064.7 1005.7,2063.0 1007.7,2061.7 1008.7,2061.7 1015.3,2064.7 1017.7,2065.0 1023.7,2062.0 1028.7,2055.7 1030.0,2054.7 1039.7,2054.7 1042.0,2055.3 1043.7,2057.0 1049.0,2069.7 1055.0,2074.0 1063.3,2082.0 1068.0,2085.0 1078.0,2079.3 1085.0,2076.7 1096.0,2060.7 1097.3,2059.7 1103.0,2058.3 1104.7,2060.3 1108.3,2070.7 1115.7,2076.3 1120.7,2086.3 1122.3,2087.7 1131.7,2089.0 1138.0,2094.0 1140.0,2094.0 1146.0,2091.0 1153.7,2096.3 1159.0,2097.7 1161.3,2097.7 1167.3,2094.7 1176.3,2094.7 1179.7,2091.0 1187.3,2089.0 1192.3,2094.7 1200.7,2094.7 1207.7,2098.0 1215.0,2103.7 1220.3,2105.0 1236.7,2095.3 1243.7,2085.3 1252.7,2083.7 1259.7,2080.0 1268.3,2078.0 1273.3,2069.7 1278.3,2064.0 1279.7,2063.7 1282.3,2064.3 1283.7,2065.3 1300.7,2091.0 1307.7,2092.7 1316.3,2096.3 1325.7,2096.3 1334.7,2101.7 1344.3,2101.7 1358.0,2105.0 1360.0,2105.0 1365.0,2101.3 1367.7,2094.3 1368.7,2093.0 1369.7,2092.7 1374.7,2094.3 1377.0,2094.3 1381.3,2092.3 1384.7,2083.7 1386.0,2082.0 1388.3,2077.0 1391.0,2062.7 1392.3,2062.0 1394.0,2066.0 1398.0,2080.7 1404.3,2086.0 1420.0,2107.3 1427.3,2111.7 1435.0,2111.0 1449.3,2111.0 1455.3,2114.0 1456.7,2114.0 1462.7,2111.0 1471.3,2109.0 1473.3,2109.0 1488.0,2112.7 1496.3,2111.0 1507.3,2111.0 1513.7,2105.0 1518.0,2102.0 1520.0,2101.7 1524.3,2102.7 1525.7,2104.0 1528.7,2109.3 1533.7,2112.3 1542.3,2107.3 1550.0,2106.3 1559.3,2107.0 1561.7,2107.7 1568.0,2112.3 1574.0,2117.7 1581.0,2115.0 1586.3,2112.0 1587.7,2110.7 1591.3,2103.3 1595.0,2098.3 1597.0,2096.3 1603.0,2098.0 1608.3,2103.7 1622.3,2110.7 1624.3,2110.7 1631.7,2109.0 1638.0,2116.7 1644.0,2119.7 1645.0,2119.7 1651.0,2116.7 1658.7,2111.0 1666.3,2111.0 1672.0,2114.3 1681.0,2116.3 1688.7,2121.7 1697.7,2120.7 1711.7,2125.3 1733.3,2123.7 1743.0,2120.7 1744.3,2119.7 1744.3,2107.3 1743.7,2106.7 1735.0,2106.7 1728.7,2108.7 1720.0,2109.3 1707.7,2108.7 1700.7,2105.0 1691.7,2102.3 1683.3,2103.0 1677.7,2101.7 1665.0,2095.3 1659.3,2096.0 1651.3,2100.7 1644.3,2103.0 1643.0,2101.7 1640.7,2096.7 1639.7,2095.7 1631.3,2093.7 1617.3,2092.7 1614.0,2091.7 1608.3,2087.3 1602.3,2079.3 1598.7,2076.3 1595.3,2077.3 1594.3,2078.3 1590.3,2085.0 1587.3,2091.3 1585.7,2093.0 1579.7,2096.0 1569.3,2097.7 1559.7,2096.3 1554.0,2092.7 1550.3,2091.7 1547.7,2091.7 1543.0,2095.0 1532.0,2096.0 1530.7,2094.7 1528.3,2086.3 1523.7,2082.3 1517.7,2083.0 1512.3,2086.0 1511.0,2087.3 1507.3,2095.0 1506.0,2096.0 1498.3,2095.0 1487.0,2096.0 1472.0,2094.0 1465.7,2090.7 1464.7,2090.7 1458.3,2094.0 1449.7,2096.0 1427.0,2094.0 1420.3,2087.7 1416.0,2081.7 1403.7,2070.0 1399.3,2055.7 1397.7,2042.3 1396.3,2037.3 1396.7,2030.3 1396.0,2028.7 1394.7,2027.3 1392.0,2026.7 1389.7,2027.0 1387.7,2029.7 1388.3,2032.3 1388.0,2037.3 1386.0,2049.0 1385.7,2055.3 1383.7,2058.3 1382.7,2062.0 1382.0,2070.7 1379.7,2076.0 1378.7,2077.0 1377.7,2077.0 1374.7,2074.7 1373.3,2072.7 1373.0,2067.7 1373.7,2064.0 1373.0,2062.0 1371.7,2061.0 1367.7,2061.0 1366.0,2062.3 1365.3,2063.7 1365.0,2069.0 1362.7,2081.7 1361.0,2083.3 1343.0,2086.7 1335.0,2082.7 1326.7,2081.3 1320.3,2078.0 1317.7,2078.0 1310.3,2079.3 1305.3,2076.3 1297.3,2068.3 1293.7,2058.7 1288.7,2050.3 1284.7,2048.0 1281.0,2048.0 1276.3,2049.0 1271.0,2054.0 1265.3,2063.3 1242.0,2074.0 1234.7,2081.3 1217.0,2088.7 1207.0,2086.7 1199.7,2082.3 1194.7,2081.7 1192.7,2080.0 1189.7,2065.0 1189.3,2055.7 1188.7,2054.3 1185.7,2052.0 1183.3,2053.0 1181.3,2055.7 1181.3,2068.0 1180.7,2072.3 1178.0,2078.3 1176.3,2079.7 1165.3,2081.3 1157.0,2078.7 1148.0,2077.7 1146.0,2076.0 1144.0,2072.3 1141.7,2070.7 1139.7,2070.7 1136.7,2073.0 1134.0,2074.0 1125.0,2072.7 1123.0,2071.3 1118.7,2065.3 1113.0,2059.7 1108.3,2044.7 1109.0,2039.0 1108.3,2037.7 1107.0,2036.7 1102.3,2037.0 1101.3,2038.0 1100.3,2040.7 1098.7,2042.3 1090.0,2048.7 1083.7,2059.0 1075.7,2065.0 1056.0,2061.7 1054.0,2060.0 1050.7,2052.3 1049.0,2050.7 1048.0,2048.3 1046.0,2040.3 1046.3,2033.0 1045.7,2031.0 1044.7,2030.3 1039.7,2030.7 1038.3,2032.7 1038.0,2036.7 1037.0,2037.7 1030.7,2037.7 1024.0,2042.7 1022.0,2043.7 1016.3,2045.0 1014.7,2044.7 1007.7,2038.0 1000.0,2039.7 994.0,2038.0 990.0,2035.0 988.7,2034.7 984.7,2038.0 981.3,2051.3 980.3,2052.3 973.7,2052.3 972.0,2050.7 967.7,2043.3 962.7,2038.0 962.0,2036.7 957.0,2017.0 953.7,2010.3 951.3,1996.7 950.7,1995.3 946.7,1992.0 945.7,1992.3 942.0,1996.3 939.0,2009.0 938.0,2009.3 936.0,2007.3 932.3,2006.7 929.7,2009.7 929.3,2011.0 930.0,2013.3 927.0,2029.3 926.0,2030.3 919.3,2028.7 914.0,2030.0 912.0,2029.7 909.3,2017.0 908.0,2002.0 906.7,1993.7 906.7,1990.0 905.3,1980.0 904.7,1978.7 903.3,1944.7 901.7,1924.0 901.3,1912.3 902.0,1910.0 900.3,1907.3 898.7,1906.0 895.7,1907.0 893.3,1907.0 892.3,1911.0 893.7,1916.0 893.7,1919.0 891.7,1933.3 889.3,1978.3 887.0,1982.7 886.0,2007.3 884.0,2030.7 883.3,2034.0 882.0,2035.3 880.0,2036.0 878.3,2034.3 875.7,2027.0 874.3,2026.0 871.7,2025.3 869.3,2026.0 865.0,2029.0 851.3,2036.0 839.0,2036.0 829.7,2032.0 822.7,2027.7 813.3,2019.0 806.0,2013.3 802.0,2004.7 797.7,1990.7 795.7,1987.3 794.0,1978.3 793.0,1977.0 789.7,1975.3 788.3,1975.3 784.0,1977.7 781.0,1986.7 778.3,1991.0 775.7,1999.0 773.7,2000.7 770.7,2001.3 769.3,2000.0 767.0,1995.0 763.3,1977.7 761.7,1962.0 761.0,1947.3 757.3,1922.0 755.7,1843.7 753.7,1597.7 752.0,1490.7 751.0,1488.0 747.7,1485.3 745.7,1486.7 743.7,1489.3 744.0,1550.0 743.3,1675.3 743.3,1839.3 740.7,1941.3 738.3,1954.0 737.7,1966.0 735.7,1982.3 733.0,1997.0 730.7,2001.0 729.7,2001.3 724.3,2000.0 722.7,1998.0 715.7,1969.0 714.7,1968.3 708.7,1967.7 705.0,1965.0 703.0,1964.7 699.3,1967.3 695.0,1979.7 693.0,1983.7 689.0,1997.7 683.3,2008.3 681.7,2010.0 668.0,2016.0 661.7,2014.7 659.7,2013.3 658.3,2008.7 656.7,2006.3 652.3,1992.7 645.7,1988.0 644.7,1954.3 643.7,1941.0 644.0,1926.3 643.3,1922.7 640.7,1920.0 638.7,1919.3 637.3,1920.3 635.3,1923.3 635.7,1937.7 634.7,1946.7 633.7,1948.0 632.7,1948.0 628.3,1943.0 623.0,1939.0 620.3,1872.7 620.3,1847.3 620.0,1842.7 618.3,1840.0 616.7,1838.7 615.7,1838.7 612.0,1841.7 611.7,1843.3 612.3,1853.7 612.0,1872.3 609.7,1917.3 609.0,1948.0 606.7,1972.7 605.7,1992.7 605.0,1996.3 604.0,2017.7 602.3,2020.7 601.3,2020.7 598.0,2017.3 591.7,2014.3 585.7,2005.0 580.7,2001.7 575.7,2003.0 569.7,2008.7 560.0,2010.3 557.3,2010.3 547.7,2008.7 539.0,2003.3 529.3,2006.0 524.0,2003.0 514.7,2001.3 494.7,1994.3 493.3,1993.3 488.3,1986.3 484.0,1961.7 483.7,1952.0 480.7,1949.0 478.0,1949.3 475.7,1952.3 475.7,1963.3 474.3,1972.3 473.3,1975.0 468.0,1983.3 461.3,1986.7 453.3,1986.7 445.3,1980.7 440.3,1972.7 434.7,1961.3 430.7,1946.7 425.7,1899.0 423.7,1874.0 422.3,1843.7 417.7,1793.3 417.0,1791.0 414.7,1789.0 412.7,1788.7 410.3,1790.0 409.0,1793.0 409.0,1798.3 405.3,1832.3 404.0,1835.7 404.0,1837.3 402.3,1843.3 398.3,1871.0 397.0,1874.0 395.0,1876.7 393.7,1877.7 387.0,1877.7 380.3,1882.7 378.7,1883.0 377.7,1882.0 375.0,1876.3 365.3,1869.3 364.0,1869.3 360.0,1872.0 354.0,1874.3 353.0,1873.7 350.0,1866.3 350.0,1863.0 346.7,1859.3 345.0,1859.7 342.3,1861.7 342.0,1864.0Z" fill="#000000" fill-rule="evenodd"/>
</g>
<g id="frame" class="fr" filter="url(#fs)">
<path d="M326 34.4 V2143.9" stroke-width="5.2"/>
<path d="M1744.2 34.4 V2143.9" stroke-width="5.2"/>
<path d="M326 37 H1744.2" stroke-width="5.2"/>
<path d="M326 738.5 H1744.2" stroke-width="5.2"/>
<path d="M326 1441 H1744.2" stroke-width="5.2"/>
<path d="M326 2141.3 H1744.2" stroke-width="5.2"/>
<path d="M343.4 738.5 V720.5" stroke-width="5"/>
<path d="M436.8 738.5 V707.5" stroke-width="5"/>
<path d="M530.2 738.5 V720.5" stroke-width="5"/>
<path d="M623.6 738.5 V707.5" stroke-width="5"/>
<path d="M717.0 738.5 V720.5" stroke-width="5"/>
<path d="M810.4 738.5 V707.5" stroke-width="5"/>
<path d="M903.8 738.5 V720.5" stroke-width="5"/>
<path d="M997.2 738.5 V707.5" stroke-width="5"/>
<path d="M1090.6 738.5 V720.5" stroke-width="5"/>
<path d="M1184.0 738.5 V707.5" stroke-width="5"/>
<path d="M1277.4 738.5 V720.5" stroke-width="5"/>
<path d="M1370.8 738.5 V707.5" stroke-width="5"/>
<path d="M1464.2 738.5 V720.5" stroke-width="5"/>
<path d="M1557.6 738.5 V707.5" stroke-width="5"/>
<path d="M1651.0 738.5 V720.5" stroke-width="5"/>
<path d="M343.4 1441 V1423" stroke-width="5"/>
<path d="M436.8 1441 V1412" stroke-width="5"/>
<path d="M530.2 1441 V1423" stroke-width="5"/>
<path d="M623.6 1441 V1412" stroke-width="5"/>
<path d="M717.0 1441 V1423" stroke-width="5"/>
<path d="M810.4 1441 V1412" stroke-width="5"/>
<path d="M903.8 1441 V1423" stroke-width="5"/>
<path d="M997.2 1441 V1412" stroke-width="5"/>
<path d="M1090.6 1441 V1423" stroke-width="5"/>
<path d="M1184.0 1441 V1412" stroke-width="5"/>
<path d="M1277.4 1441 V1423" stroke-width="5"/>
<path d="M1370.8 1441 V1412" stroke-width="5"/>
<path d="M1464.2 1441 V1423" stroke-width="5"/>
<path d="M1557.6 1441 V1412" stroke-width="5"/>
<path d="M1651.0 1441 V1423" stroke-width="5"/>
<path d="M343.4 2141.3 V2124.3" stroke-width="5"/>
<path d="M436.8 2141.3 V2111.3" stroke-width="5"/>
<path d="M530.2 2141.3 V2124.3" stroke-width="5"/>
<path d="M623.6 2141.3 V2111.3" stroke-width="5"/>
<path d="M717.0 2141.3 V2124.3" stroke-width="5"/>
<path d="M810.4 2141.3 V2111.3" stroke-width="5"/>
<path d="M903.8 2141.3 V2124.3" stroke-width="5"/>
<path d="M997.2 2141.3 V2111.3" stroke-width="5"/>
<path d="M1090.6 2141.3 V2124.3" stroke-width="5"/>
<path d="M1184.0 2141.3 V2111.3" stroke-width="5"/>
<path d="M1277.4 2141.3 V2124.3" stroke-width="5"/>
<path d="M1370.8 2141.3 V2111.3" stroke-width="5"/>
<path d="M1464.2 2141.3 V2124.3" stroke-width="5"/>
<path d="M1557.6 2141.3 V2111.3" stroke-width="5"/>
<path d="M1651.0 2141.3 V2124.3" stroke-width="5"/>
<path d="M326 675.5 H341" stroke-width="5"/>
<path d="M326 595.6 H354" stroke-width="5"/>
<path d="M326 515.8 H341" stroke-width="5"/>
<path d="M326 435.9 H354" stroke-width="5"/>
<path d="M326 356.1 H341" stroke-width="5"/>
<path d="M326 276.2 H354" stroke-width="5"/>
<path d="M326 196.4 H341" stroke-width="5"/>
<path d="M326 116.5 H354" stroke-width="5"/>
<path d="M326 1403.3 H341" stroke-width="5"/>
<path d="M326 1329.5 H354" stroke-width="5"/>
<path d="M326 1255.6 H341" stroke-width="5"/>
<path d="M326 1181.7 H354" stroke-width="5"/>
<path d="M326 1107.8 H341" stroke-width="5"/>
<path d="M326 1034.0 H354" stroke-width="5"/>
<path d="M326 960.1 H341" stroke-width="5"/>
<path d="M326 886.2 H354" stroke-width="5"/>
<path d="M326 812.4 H341" stroke-width="5"/>
<path d="M326 2116.8 H341" stroke-width="5"/>
<path d="M326 2068.5 H354" stroke-width="5"/>
<path d="M326 2020.2 H341" stroke-width="5"/>
<path d="M326 1971.8 H354" stroke-width="5"/>
<path d="M326 1923.4 H341" stroke-width="5"/>
<path d="M326 1875.1 H354" stroke-width="5"/>
<path d="M326 1826.8 H341" stroke-width="5"/>
<path d="M326 1778.4 H354" stroke-width="5"/>
<path d="M326 1730.0 H341" stroke-width="5"/>
<path d="M326 1681.7 H354" stroke-width="5"/>
<path d="M326 1633.3 H341" stroke-width="5"/>
<path d="M326 1585.0 H354" stroke-width="5"/>
<path d="M326 1536.6 H341" stroke-width="5"/>
<path d="M326 1488.3 H354" stroke-width="5"/>
</g>
<g id="ylabels" filter="url(#fy)">
<clipPath id="cf1" clipPathUnits="userSpaceOnUse"><path clip-rule="evenodd" d="M-222.5 -66.2 H20.0 V26.5 H-222.5 Z M-201.18 -7.48 h14.07 v10.48 h-14.07 z M-178.01 -7.48 h13.24 v10.48 h-13.24 z"/></clipPath>
<text id="yt1" class="ab" font-size="66.2" text-anchor="end" fill="#000" transform="translate(290.60 134.00)" clip-path="url(#cf1)">10,000</text>
<text id="yt2" class="ab" font-size="66.2" text-anchor="end" fill="#000" transform="translate(283.40 292.90)">8,000</text>
<text id="yt3" class="ab" font-size="66.2" text-anchor="end" fill="#000" transform="translate(287.40 453.10)">6,000</text>
<text id="yt4" class="ab" font-size="66.2" text-anchor="end" fill="#000" transform="translate(287.40 605.60)">4,000</text>
<clipPath id="cf2" clipPathUnits="userSpaceOnUse"><path clip-rule="evenodd" d="M-222.5 -66.2 H20.0 V26.5 H-222.5 Z M-201.18 -7.48 h14.07 v10.48 h-14.07 z M-178.01 -7.48 h13.24 v10.48 h-13.24 z"/></clipPath>
<text id="ym1" class="ab" font-size="66.2" text-anchor="end" fill="#000" transform="translate(288.40 755.90)" clip-path="url(#cf2)">12,000</text>
<clipPath id="cf3" clipPathUnits="userSpaceOnUse"><path clip-rule="evenodd" d="M-222.5 -66.2 H20.0 V26.5 H-222.5 Z M-201.18 -7.48 h14.07 v10.48 h-14.07 z M-178.01 -7.48 h13.24 v10.48 h-13.24 z"/></clipPath>
<text id="ym2" class="ab" font-size="66.2" text-anchor="end" fill="#000" transform="translate(288.40 905.10)" clip-path="url(#cf3)">10,000</text>
<text id="ym3" class="ab" font-size="66.2" text-anchor="end" fill="#000" transform="translate(286.80 1051.20)">8,000</text>
<text id="ym4" class="ab" font-size="66.2" text-anchor="end" fill="#000" transform="translate(283.40 1201.90)">6,000</text>
<text id="ym5" class="ab" font-size="66.2" text-anchor="end" fill="#000" transform="translate(282.40 1347.90)">4,000</text>
<clipPath id="cf4" clipPathUnits="userSpaceOnUse"><path clip-rule="evenodd" d="M-222.5 -66.2 H20.0 V26.5 H-222.5 Z M-201.18 -7.48 h14.07 v10.48 h-14.07 z M-178.01 -7.48 h13.24 v10.48 h-13.24 z"/></clipPath>
<text id="yb1" class="ab" font-size="66.2" text-anchor="end" fill="#000" transform="translate(288.40 1504.20)" clip-path="url(#cf4)">16,000</text>
<clipPath id="cf5" clipPathUnits="userSpaceOnUse"><path clip-rule="evenodd" d="M-222.5 -66.2 H20.0 V26.5 H-222.5 Z M-201.18 -7.48 h14.07 v10.48 h-14.07 z M-178.01 -7.48 h13.24 v10.48 h-13.24 z"/></clipPath>
<text id="yb2" class="ab" font-size="66.2" text-anchor="end" fill="#000" transform="translate(288.40 1604.40)" clip-path="url(#cf5)">14,000</text>
<clipPath id="cf6" clipPathUnits="userSpaceOnUse"><path clip-rule="evenodd" d="M-222.5 -66.2 H20.0 V26.5 H-222.5 Z M-201.18 -7.48 h14.07 v10.48 h-14.07 z M-178.01 -7.48 h13.24 v10.48 h-13.24 z"/></clipPath>
<text id="yb3" class="ab" font-size="66.2" text-anchor="end" fill="#000" transform="translate(291.20 1700.30)" clip-path="url(#cf6)">12,000</text>
<clipPath id="cf7" clipPathUnits="userSpaceOnUse"><path clip-rule="evenodd" d="M-222.5 -66.2 H20.0 V26.5 H-222.5 Z M-201.18 -7.48 h14.07 v10.48 h-14.07 z M-178.01 -7.48 h13.24 v10.48 h-13.24 z"/></clipPath>
<text id="yb4" class="ab" font-size="66.2" text-anchor="end" fill="#000" transform="translate(288.40 1796.60)" clip-path="url(#cf7)">10,000</text>
<text id="yb5" class="ab" font-size="66.2" text-anchor="end" fill="#000" transform="translate(291.20 1892.60)">8,000</text>
<text id="yb6" class="ab" font-size="66.2" text-anchor="end" fill="#000" transform="translate(291.20 1992.80)">6,000</text>
<text id="yb7" class="ab" font-size="66.2" text-anchor="end" fill="#000" transform="translate(291.20 2086.50)">4,000</text>
</g>
<g id="labels" filter="url(#ft)">
<clipPath id="cf8" clipPathUnits="userSpaceOnUse"><path clip-rule="evenodd" d="M-56.7 -66.0 H56.7 V26.4 H-56.7 Z M-35.39 -7.46 h14.03 v10.46 h-14.03 z M-12.29 -7.46 h13.20 v10.46 h-13.20 z"/></clipPath>
<text id="x10" class="ab" font-size="66" text-anchor="middle" fill="#000" transform="translate(435.60 2222.40) scale(0.975 1)" stroke="#fdfdfd" stroke-width="0.8" stroke-linejoin="round" clip-path="url(#cf8)">10</text>
<text id="x20" class="ab" font-size="66" text-anchor="middle" fill="#000" transform="translate(623.00 2222.40) scale(0.975 1)" stroke="#fdfdfd" stroke-width="0.8" stroke-linejoin="round">20</text>
<text id="x30" class="ab" font-size="66" text-anchor="middle" fill="#000" transform="translate(810.10 2222.40) scale(0.975 1)" stroke="#fdfdfd" stroke-width="0.8" stroke-linejoin="round">30</text>
<text id="x40" class="ab" font-size="66" text-anchor="middle" fill="#000" transform="translate(996.90 2222.40) scale(0.975 1)" stroke="#fdfdfd" stroke-width="0.8" stroke-linejoin="round">40</text>
<text id="x50" class="ab" font-size="66" text-anchor="middle" fill="#000" transform="translate(1182.40 2222.40) scale(0.975 1)" stroke="#fdfdfd" stroke-width="0.8" stroke-linejoin="round">50</text>
<text id="x60" class="ab" font-size="66" text-anchor="middle" fill="#000" transform="translate(1369.40 2222.40) scale(0.975 1)" stroke="#fdfdfd" stroke-width="0.8" stroke-linejoin="round">60</text>
<text id="x70" class="ab" font-size="66" text-anchor="middle" fill="#000" transform="translate(1556.20 2222.40) scale(0.975 1)" stroke="#fdfdfd" stroke-width="0.8" stroke-linejoin="round">70</text>
<text id="x80" class="ab" font-size="66" text-anchor="middle" fill="#000" transform="translate(1743.10 2222.40) scale(0.975 1)" stroke="#fdfdfd" stroke-width="0.8" stroke-linejoin="round">80</text>
<text id="counts" class="ab" font-size="89.5" text-anchor="start" fill="#000" transform="translate(79.60 1200.50) rotate(-90) scale(0.949 1)">Counts</text>
<text id="t2" class="tr" font-size="91" text-anchor="start" fill="#111" transform="translate(892.10 2371.80)" stroke="#111" stroke-width="1.1">2θ</text>
<text id="tlb" class="tr" font-size="91" text-anchor="start" fill="#111" transform="translate(1005.00 2371.80)" stroke="#111" stroke-width="1.1">[</text>
<text id="tdg" class="tr" font-size="51" text-anchor="start" fill="#111" transform="translate(1034.00 2321.50) scale(0.95 1)" stroke="#111" stroke-width="1.1">o</text>
<text id="trb" class="tr" font-size="91" text-anchor="start" fill="#111" transform="translate(1056.40 2371.80)" stroke="#111" stroke-width="1.1">]</text>
</g>
<g id="leglines" filter="url(#fs)" fill="none" stroke-width="6.6">
<path d="M1090.6 98.0 H1247.1" stroke="#0000ff"/>
<path d="M1290.6 794.5 H1449.8" stroke="#ff0000"/>
<path d="M1452.5 1495.0 H1608.7" stroke="#000000"/>
</g>
<g id="legends" filter="url(#fl)">
<text id="lg1" class="ab" font-size="67" text-anchor="start" fill="#000" transform="translate(1257.00 119.10) scale(0.98 1)">GT/CGG/CAPB</text>
<text id="lg2" class="ab" font-size="67" text-anchor="start" fill="#000" transform="translate(1460.45 814.90) scale(0.98 1)">GT/CGG</text>
<text id="lg3" class="ab" font-size="67" text-anchor="start" fill="#000" transform="translate(1619.95 1516.90)">GT</text>
</g>
<g id="annotations" filter="url(#ft)">
<text id="ad1" class="ar" font-size="66" text-anchor="start" fill="#0000ff" transform="translate(346.10 183.70) scale(1.06 1)">d</text>
<text id="as1" class="ar" font-size="40" text-anchor="start" fill="#0000ff" transform="translate(384.15 210.60) scale(0.925 1)">001</text>
<text id="ae1" class="tb" font-size="67.2" text-anchor="start" fill="#0000ff" transform="translate(466.90 185.65)" stroke="#fdfdfd" stroke-width="0.9" stroke-linejoin="round"><tspan stroke="#0000ff" stroke-width="1.8">=</tspan> 10.15 Å</text>
<text id="ad2" class="ar" font-size="66" text-anchor="start" fill="#ff0000" transform="translate(346.10 959.00) scale(1.06 1)">d</text>
<text id="as2" class="ar" font-size="40" text-anchor="start" fill="#ff0000" transform="translate(384.15 985.90) scale(0.925 1)">001</text>
<text id="ae2" class="tb" font-size="67.2" text-anchor="start" fill="#ff0000" transform="translate(466.90 961.65)" stroke="#fdfdfd" stroke-width="0.9" stroke-linejoin="round"><tspan stroke="#ff0000" stroke-width="1.8">=</tspan> 10.15 Å</text>
<text id="ad3" class="ar" font-size="66" text-anchor="start" fill="#202020" transform="translate(346.10 1743.70) scale(1.06 1)">d</text>
<text id="as3" class="ar" font-size="40" text-anchor="start" fill="#202020" transform="translate(384.15 1770.60) scale(0.925 1)">001</text>
<text id="ae3" class="tb" font-size="67.2" text-anchor="start" fill="#202020" transform="translate(466.90 1745.65)" stroke="#fdfdfd" stroke-width="0.9" stroke-linejoin="round"><tspan stroke="#202020" stroke-width="1.8">=</tspan> 10.06 Å</text>
</g>
</svg>
</body></html>
